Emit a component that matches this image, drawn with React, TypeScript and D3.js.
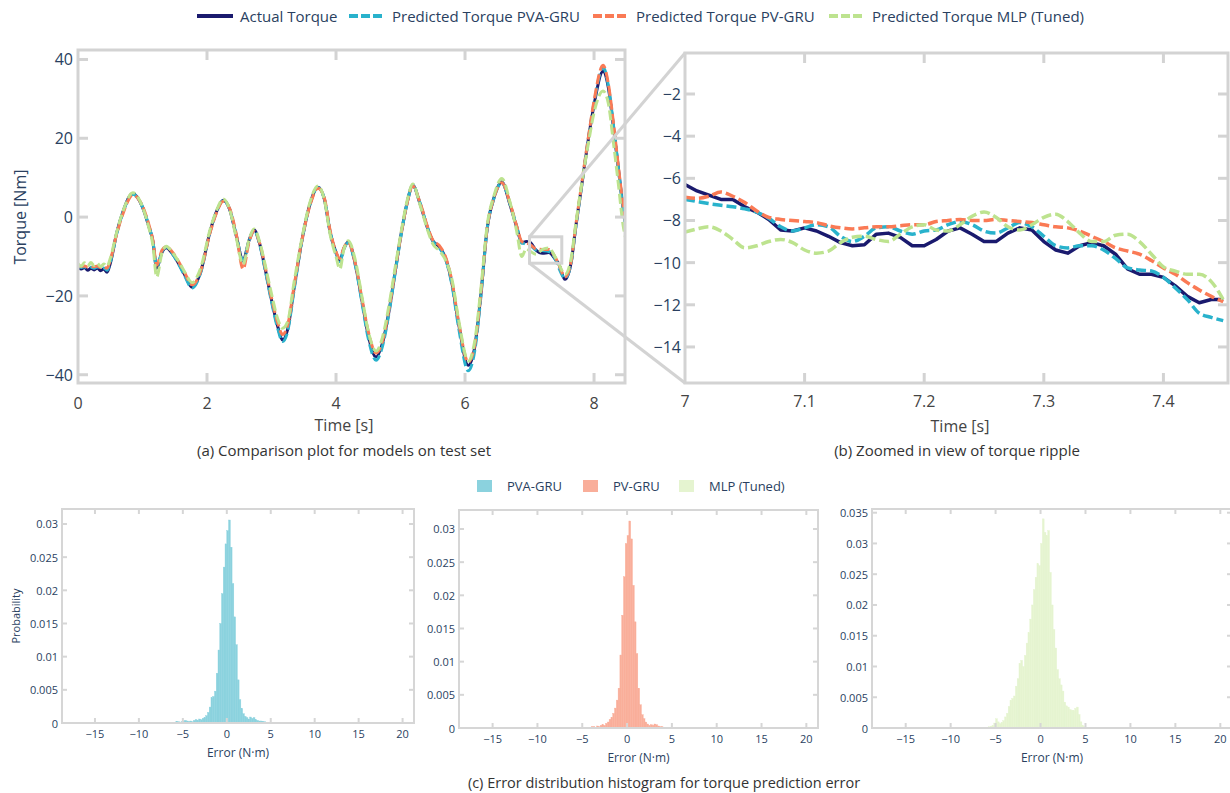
import React from 'react';
import * as d3 from 'd3';

// ---------------- DATA ----------------
const SERIES_NAMES = ['Actual Torque', 'Predicted Torque PVA-GRU', 'Predicted Torque PV-GRU', 'Predicted Torque MLP (Tuned)'];
const HIST_NAMES = ['PVA-GRU', 'PV-GRU', 'MLP (Tuned)'];

// Panel (a): full test-set time series
const TIME_A = [0, 0.05, 0.1, 0.15, 0.2, 0.25, 0.3, 0.35, 0.4, 0.45,
  0.5, 0.6, 0.7, 0.85, 1.0, 1.1, 1.16, 1.22, 1.3, 1.37,
  1.45, 1.55, 1.65, 1.77, 1.9, 2.05, 2.15, 2.25, 2.35, 2.45,
  2.56, 2.65, 2.73, 2.82, 2.9, 3.0, 3.1, 3.17, 3.25, 3.35,
  3.47, 3.6, 3.72, 3.82, 3.91, 4.0, 4.06, 4.12, 4.19, 4.3,
  4.4, 4.5, 4.62, 4.72, 4.82, 4.92, 5.02, 5.1, 5.19, 5.3,
  5.43, 5.5, 5.6, 5.7, 5.8, 5.9, 6.05, 6.15, 6.25, 6.34,
  6.45, 6.57, 6.7, 6.8, 6.88, 6.95, 7.0, 7.1, 7.2, 7.3,
  7.4, 7.45, 7.55, 7.65, 7.71, 7.8, 7.91, 8.0, 8.14, 8.22,
  8.3, 8.38, 8.45, 8.5];

const ACTUAL_A = [-12.5, -13.2, -12.8, -13.5, -13.0, -13.4, -12.9, -13.6, -13.2, -14.0,
  -11.8, -4.0, 1.5, 6.0, 2.5, -2.5, -6.0, -13.0, -9.0, -7.8,
  -9.0, -11.5, -14.5, -17.8, -14.0, -3.5, 1.5, 4.3, 2.0, -4.5,
  -11.0, -6.0, -3.3, -7.0, -13.0, -21.0, -28.0, -31.2, -28.5, -18.0,
  -6.0, 3.5, 7.6, 4.5, -4.0, -9.0, -11.0, -8.0, -6.3, -12.0,
  -21.0, -30.0, -35.5, -32.0, -24.0, -13.5, -3.3, 3.5, 8.1, 3.5,
  -3.3, -6.0, -7.5, -10.5, -17.0, -27.0, -37.6, -33.0, -19.0, -3.3,
  5.0, 8.9, 3.0, -2.5, -6.5, -6.2, -6.3, -8.4, -9.2, -9.0,
  -10.7, -11.8, -15.8, -11.0, -3.3, 7.0, 19.5, 28.5, 37.0, 33.0,
  23.0, 12.0, 2.5, -3.0];

const PVA_A = [-12.0, -12.8, -12.6, -13.0, -12.7, -13.0, -12.6, -13.1, -12.9, -13.5,
  -11.5, -4.2, 1.4, 5.8, 2.6, -2.3, -6.0, -12.8, -8.8, -7.6,
  -9.0, -11.6, -14.8, -18.0, -14.2, -3.6, 1.4, 4.2, 2.1, -4.3,
  -11.2, -6.2, -3.4, -7.2, -13.3, -21.5, -28.5, -31.6, -29.0, -18.5,
  -6.2, 3.4, 7.5, 4.6, -3.8, -9.2, -11.3, -8.2, -6.5, -12.3,
  -21.5, -30.8, -36.3, -32.8, -24.5, -13.8, -3.5, 3.4, 8.0, 3.7,
  -3.2, -6.1, -7.8, -10.8, -17.5, -28.0, -39.0, -34.0, -19.5, -3.4,
  4.8, 8.7, 3.2, -2.3, -6.6, -6.8, -7.0, -8.35, -8.5, -8.75,
  -10.7, -12.75, -15.5, -11.2, -3.5, 7.0, 19.8, 29.0, 38.0, 33.5,
  23.5, 12.0, 2.0, -3.5];

const PV_A = [-12.3, -12.5, -12.4, -12.7, -12.5, -12.6, -12.4, -12.8, -12.6, -13.0,
  -11.0, -4.3, 1.0, 5.6, 2.8, -2.0, -5.8, -12.2, -8.5, -7.5,
  -8.6, -11.0, -14.0, -17.2, -13.8, -3.8, 1.2, 4.0, 2.2, -4.0,
  -13.2, -6.5, -3.6, -6.8, -12.5, -20.5, -27.0, -29.8, -27.5, -17.5,
  -6.0, 3.2, 7.3, 4.8, -3.5, -8.8, -10.5, -7.8, -6.4, -11.8,
  -20.5, -29.0, -34.5, -31.5, -23.5, -13.2, -3.3, 3.4, 7.9, 3.8,
  -3.0, -5.8, -7.2, -10.2, -16.5, -26.5, -36.8, -32.5, -18.5, -3.2,
  5.0, 8.7, 3.4, -2.2, -6.2, -6.6, -6.9, -8.05, -8.2, -8.2,
  -10.25, -11.85, -15.2, -10.8, -3.0, 7.5, 20.0, 29.5, 38.5, 34.0,
  24.0, 12.5, 3.0, -2.5];

const MLP_A = [-11.8, -12.5, -11.6, -12.4, -11.5, -12.3, -11.7, -12.6, -11.9, -12.5,
  -10.5, -3.8, 1.6, 6.2, 2.6, -2.8, -7.0, -15.2, -9.2, -7.4,
  -8.7, -11.0, -13.8, -16.6, -13.0, -3.0, 1.8, 4.6, 2.0, -5.0,
  -12.0, -5.8, -3.0, -6.5, -12.0, -19.5, -26.0, -28.2, -26.5, -16.5,
  -5.5, 4.0, 7.9, 4.3, -4.5, -10.0, -13.2, -8.3, -6.0, -11.0,
  -20.0, -29.0, -34.0, -30.5, -22.5, -12.5, -2.8, 4.0, 8.4, 3.2,
  -3.8, -6.8, -8.5, -11.0, -16.0, -26.0, -36.5, -31.5, -17.5, -2.5,
  5.5, 9.8, 3.6, -3.5, -10.0, -8.0, -8.55, -9.4, -8.2, -7.85,
  -10.2, -11.75, -14.5, -10.0, -2.5, 7.5, 18.5, 26.5, 32.0, 29.0,
  19.0, 8.0, -2.0, -6.0];

// Panel (b): zoomed window 7.00 .. 7.45 s
const TIME_B = [7.00, 7.01, 7.02, 7.03, 7.04, 7.05, 7.06, 7.07, 7.08, 7.09,
  7.10, 7.11, 7.12, 7.13, 7.14, 7.15, 7.16, 7.17, 7.18, 7.19,
  7.20, 7.21, 7.22, 7.23, 7.24, 7.25, 7.26, 7.27, 7.28, 7.29,
  7.30, 7.31, 7.32, 7.33, 7.34, 7.35, 7.36, 7.37, 7.38, 7.39,
  7.40, 7.41, 7.42, 7.43, 7.44, 7.45];

const ACTUAL_B = [-6.3, -6.6, -6.8, -7.0, -7.0, -7.35, -7.6, -7.95, -8.45, -8.5,
  -8.35, -8.5, -8.75, -9.05, -9.2, -9.15, -8.65, -8.6, -8.8, -9.2,
  -9.2, -8.9, -8.5, -8.35, -8.65, -9.0, -9.0, -8.6, -8.35, -8.45,
  -9.0, -9.4, -9.55, -9.2, -9.05, -9.2, -9.6, -10.3, -10.55, -10.55,
  -10.7, -11.1, -11.6, -11.9, -11.75, -11.75];

const PVA_B = [-7.0, -7.1, -7.2, -7.28, -7.35, -7.45, -7.6, -7.9, -8.3, -8.5,
  -8.35, -8.2, -8.3, -8.75, -9.0, -8.75, -8.35, -8.3, -8.5, -8.65,
  -8.5, -8.45, -8.2, -8.05, -8.2, -8.5, -8.6, -8.35, -8.1, -8.3,
  -8.75, -9.2, -9.3, -9.2, -9.2, -9.4, -9.8, -10.25, -10.35, -10.4,
  -10.7, -11.2, -11.75, -12.4, -12.6, -12.75];

const PV_B = [-6.9, -6.95, -6.85, -6.65, -6.85, -7.15, -7.55, -7.85, -7.95, -8.0,
  -8.05, -8.1, -8.25, -8.35, -8.4, -8.35, -8.3, -8.3, -8.25, -8.2,
  -8.2, -8.05, -8.0, -7.95, -8.0, -8.0, -7.95, -8.0, -8.05, -8.1,
  -8.2, -8.3, -8.35, -8.5, -8.75, -9.0, -9.3, -9.45, -9.6, -9.9,
  -10.25, -10.55, -10.95, -11.3, -11.6, -11.85];

const MLP_B = [-8.55, -8.4, -8.3, -8.5, -8.9, -9.3, -9.2, -9.0, -8.9, -9.05,
  -9.4, -9.55, -9.45, -9.05, -8.8, -8.75, -8.9, -9.0, -8.65, -8.3,
  -8.2, -8.45, -8.5, -8.2, -7.8, -7.6, -7.85, -8.3, -8.45, -8.2,
  -7.85, -7.7, -8.05, -8.6, -9.0, -9.0, -8.7, -8.65, -9.0, -9.6,
  -10.2, -10.4, -10.55, -10.55, -10.9, -11.75];

// Histograms: bins of width 0.2 starting at -6.0 (60 bins)
const BIN_START = -6.0;
const BIN_WIDTH = 0.2;

const HIST_PVA = [0, 0.0002, 0.0002, 0.0001, 0.0002, 0.0003, 0.0004, 0.0003, 0.0002, 0.0003,
  0.0002, 0.0004, 0.0005, 0.0004, 0.0006, 0.0005, 0.0007, 0.0008, 0.0011, 0.0016,
  0.0024, 0.0038, 0.0040, 0.0048, 0.0075, 0.0110, 0.0150, 0.0195, 0.0235, 0.0270,
  0.0290, 0.0306, 0.0265, 0.0210, 0.0160, 0.0118, 0.0065, 0.0035, 0.0022, 0.0014,
  0.0010, 0.0008, 0.0006, 0.0009, 0.0007, 0.0008, 0.0005, 0.0004, 0.0003, 0.0003,
  0.0002, 0.0002, 0.0001, 0, 0, 0, 0, 0, 0, 0];

const HIST_PV = [0, 0, 0, 0, 0, 0, 0, 0, 0, 0.0001,
  0.0002, 0.0002, 0.0001, 0.0003, 0.0002, 0.0004, 0.0005, 0.0004, 0.0007, 0.0009,
  0.0013, 0.0016, 0.0022, 0.0030, 0.0042, 0.0060, 0.0110, 0.0170, 0.0228, 0.0278,
  0.0290, 0.0312, 0.0285, 0.0215, 0.0160, 0.0112, 0.0060, 0.0035, 0.0020, 0.0014,
  0.0009, 0.0006, 0.0004, 0.0005, 0.0004, 0.0006, 0.0005, 0.0003, 0.0002, 0.0002,
  0.0001, 0.0001, 0.0001, 0.0001, 0.0001, 0, 0, 0, 0, 0];

const HIST_MLP = [0.0001, 0.0002, 0.0003, 0.0004, 0.0008, 0.0015, 0.0010, 0.0007, 0.0009, 0.0012,
  0.0018, 0.0024, 0.0035, 0.0045, 0.0048, 0.0052, 0.0068, 0.0080, 0.0105, 0.0110,
  0.0100, 0.0118, 0.0138, 0.0155, 0.0177, 0.0200, 0.0225, 0.0245, 0.0267, 0.0264,
  0.0300, 0.0340, 0.0318, 0.0313, 0.0321, 0.0253, 0.0200, 0.0160, 0.0130, 0.0095,
  0.0080, 0.0070, 0.0060, 0.0042, 0.0036, 0.0034, 0.0030, 0.0029, 0.0028, 0.0032,
  0.0034, 0.0022, 0.0010, 0.0004, 0.0002, 0.0001, 0, 0, 0, 0];

const TICKS_A_X = [0, 2, 4, 6, 8];
const TICKS_A_Y = [-40, -20, 0, 20, 40];
const TICKS_B_X = [7, 7.1, 7.2, 7.3, 7.4];
const TICKS_B_Y = [-14, -12, -10, -8, -6, -4, -2];
const TICKS_H_X = [-15, -10, -5, 0, 5, 10, 15, 20];
const TICKS_H_Y = [0, 0.005, 0.01, 0.015, 0.02, 0.025, 0.03];
const TICKS_H_Y3 = [0, 0.005, 0.01, 0.015, 0.02, 0.025, 0.03, 0.035];

// zoom window shown in panel (a)
const ZOOM_T = [7.0, 7.5];
const ZOOM_V = [-5.0, -11.7];

// ---------------- STYLE ----------------
const FONT = '"Open Sans", verdana, arial, sans-serif';
const SLATE = '#2a3f5f';
const DARK = '#444444';
const AXIS = '#d3d3d3';
const COLORS = ['#1a1a6e', '#29b2cc', '#fa7a55', '#bde38f'];
const HIST_COLORS = ['#8bd2de', '#f9ae9a', '#e5f4d0'];
const DASH = '10,4';

const fmt = d3.format('');

function FrameTicks({ x, y, xTicks, yTicks, len, sw, color }: any) {
  const [x0, x1] = x.range();
  const [y0, y1] = y.range(); // y0 bottom, y1 top
  return (
    <g stroke={color} strokeWidth={sw} fill="none">
      {xTicks.map((t: number, i: number) => (
        <g key={'xt' + i}>
          <line x1={x(t)} x2={x(t)} y1={y0} y2={y0 - len} />
          <line x1={x(t)} x2={x(t)} y1={y1} y2={y1 + len} />
        </g>
      ))}
      {yTicks.map((t: number, i: number) => (
        <g key={'yt' + i}>
          <line x1={x0} x2={x0 + len} y1={y(t)} y2={y(t)} />
          <line x1={x1} x2={x1 - len} y1={y(t)} y2={y(t)} />
        </g>
      ))}
      <rect x={x0} y={y1} width={x1 - x0} height={y0 - y1} />
    </g>
  );
}

function Hist({ left, right, top, bottom, yMax, yTicks, values, color, yTitle }: any) {
  const x = d3.scaleLinear().domain([-18.75, 21.3]).range([left, right]);
  const y = d3.scaleLinear().domain([0, yMax]).range([bottom, top]);
  return (
    <g>
      <g fill={color} stroke={color} strokeWidth={0.4}>
        {values.map((v: number, i: number) => {
          if (v <= 0) return null;
          const e0 = BIN_START + i * BIN_WIDTH;
          const e1 = e0 + BIN_WIDTH;
          return <rect key={i} x={x(e0)} width={x(e1) - x(e0)} y={y(v)} height={bottom - y(v)} />;
        })}
      </g>
      <FrameTicks x={x} y={y} xTicks={TICKS_H_X} yTicks={yTicks.filter((t: number) => t > 0)} len={5} sw={2} color="#d6d6d6" />
      <g fontFamily={FONT} fontSize={11} fill={SLATE}>
        {TICKS_H_X.map((t: number) => (
          <text key={'hx' + t} x={x(t)} y={bottom + 10} textAnchor="middle" dominantBaseline="central">{fmt(t)}</text>
        ))}
        {yTicks.map((t: number) => (
          <text key={'hy' + t} x={left - 4} y={y(t)} textAnchor="end" dominantBaseline="central">{String(+t.toFixed(3))}</text>
        ))}
      </g>
      <text x={(left + right) / 2} y={bottom + 29} textAnchor="middle" dominantBaseline="central" fontFamily={FONT} fontSize={12} fill={SLATE}>Error (N·m)</text>
      {yTitle && (
        <text transform={`translate(15,${(top + bottom) / 2}) rotate(-90)`} textAnchor="middle" dominantBaseline="central" fontFamily={FONT} fontSize={11} fill={SLATE}>{yTitle}</text>
      )}
    </g>
  );
}

export default function App() {
  const W = 1230, H = 793;
  const xA = d3.scaleLinear().domain([0, 8.48]).range([78, 625]);
  const yA = d3.scaleLinear().domain([-42.1, 42.4]).range([383, 50]);
  const xB = d3.scaleLinear().domain([7, 7.454]).range([685, 1228]);
  const yB = d3.scaleLinear().domain([-15.71, -0.055]).range([383, 53]);

  const seriesA = [ACTUAL_A, PVA_A, PV_A, MLP_A];
  const seriesB = [ACTUAL_B, PVA_B, PV_B, MLP_B];

  const lineA = (vals: number[]) =>
    d3.line<number>().x((_, i) => xA(TIME_A[i])).y((d) => yA(d)).curve(d3.curveMonotoneX)(vals) || '';
  const lineB = (vals: number[], smooth: boolean) =>
    d3.line<number>().x((_, i) => xB(TIME_B[i])).y((d) => yB(d)).curve(smooth ? d3.curveMonotoneX : d3.curveLinear)(vals) || '';

  const legendX = [197, 349, 593, 829];
  const histLegendX = [477, 583, 679];

  const zx0 = xA(ZOOM_T[0]), zx1 = xA(ZOOM_T[1]);
  const zy0 = yA(ZOOM_V[0]), zy1 = yA(ZOOM_V[1]);

  return (
    <svg width={W} height={H} style={{ position: 'absolute', left: 0, top: 0, background: '#fff' }}>
      <defs>
        <clipPath id="clipA"><rect x={78} y={50} width={625 - 78} height={383 - 50} /></clipPath>
        <clipPath id="clipB"><rect x={685} y={53} width={1228 - 685} height={383 - 53} /></clipPath>
      </defs>
      <rect x={0} y={0} width={W} height={H} fill="#fff" />

      {/* top legend */}
      <g fontFamily={FONT} fontSize={15} fill={SLATE}>
        {SERIES_NAMES.map((n, i) => (
          <g key={n}>
            <line x1={legendX[i]} x2={legendX[i] + 36} y1={16} y2={16} stroke={COLORS[i]} strokeWidth={4}
              strokeDasharray={i === 0 ? undefined : '9,3'} />
            <text x={legendX[i] + 43} y={16} dominantBaseline="central">{n}</text>
          </g>
        ))}
      </g>

      {/* Panel (a) */}
      <g clipPath="url(#clipA)" fill="none">
        {seriesA.map((vals, i) => (
          <path key={i} d={lineA(vals)} stroke={COLORS[i]} strokeWidth={3}
            strokeDasharray={i === 0 ? undefined : DASH} strokeLinejoin="round" />
        ))}
      </g>
      <FrameTicks x={xA} y={yA} xTicks={TICKS_A_X.filter((t) => t > 0)} yTicks={TICKS_A_Y} len={10} sw={3} color={AXIS} />
      <g fontFamily={FONT} fontSize={16}>
        {TICKS_A_X.map((t) => (
          <text key={'ax' + t} x={xA(t)} y={403} textAnchor="middle" dominantBaseline="central" fill={DARK}>{fmt(t)}</text>
        ))}
        {TICKS_A_Y.map((t) => (
          <text key={'ay' + t} x={73} y={yA(t)} textAnchor="end" dominantBaseline="central" fill={SLATE}>{fmt(t)}</text>
        ))}
        <text x={344} y={425} textAnchor="middle" dominantBaseline="central" fill={DARK}>Time [s]</text>
        <text transform={`translate(20,${yA(0)}) rotate(-90)`} textAnchor="middle" dominantBaseline="central" fill={SLATE}>Torque [Nm]</text>
      </g>
      <text x={344} y={450} textAnchor="middle" dominantBaseline="central" fontFamily={FONT} fontSize={15} fill="#333">(a) Comparison plot for models on test set</text>

      {/* Panel (b) */}
      <g clipPath="url(#clipB)" fill="none">
        {seriesB.map((vals, i) => (
          <path key={i} d={lineB(vals, i !== 0)} stroke={COLORS[i]} strokeWidth={3.5}
            strokeDasharray={i === 0 ? undefined : DASH} strokeLinejoin="round" />
        ))}
      </g>
      <FrameTicks x={xB} y={yB} xTicks={TICKS_B_X.filter((t) => t > 7)} yTicks={TICKS_B_Y} len={10} sw={3} color={AXIS} />
      <g fontFamily={FONT} fontSize={16}>
        {TICKS_B_X.map((t) => (
          <text key={'bx' + t} x={xB(t)} y={401} textAnchor="middle" dominantBaseline="central" fill={DARK}>{fmt(t)}</text>
        ))}
        {TICKS_B_Y.map((t) => (
          <text key={'by' + t} x={681} y={yB(t)} textAnchor="end" dominantBaseline="central" fill={SLATE}>{fmt(t)}</text>
        ))}
        <text x={960} y={426} textAnchor="middle" dominantBaseline="central" fill={DARK}>Time [s]</text>
      </g>
      <text x={957} y={450} textAnchor="middle" dominantBaseline="central" fontFamily={FONT} fontSize={15} fill="#333">(b) Zoomed in view of torque ripple</text>

      {/* zoom indicator */}
      <g stroke={AXIS} strokeWidth={3} fill="none">
        <rect x={zx0} y={zy0} width={zx1 - zx0} height={zy1 - zy0} />
        <line x1={zx0} y1={zy0} x2={xB.range()[0]} y2={yB.range()[1]} />
        <line x1={zx0} y1={zy1} x2={xB.range()[0]} y2={yB.range()[0]} />
      </g>

      {/* histogram legend */}
      <g fontFamily={FONT} fontSize={13} fill={SLATE}>
        {HIST_NAMES.map((n, i) => (
          <g key={n}>
            <rect x={histLegendX[i]} y={480} width={15} height={12} fill={HIST_COLORS[i]} />
            <text x={histLegendX[i] + 30} y={486} dominantBaseline="central">{n}</text>
          </g>
        ))}
      </g>

      <Hist left={62} right={414} top={509} bottom={723} yMax={0.03226} yTicks={TICKS_H_Y} values={HIST_PVA} color={HIST_COLORS[0]} yTitle="Probability" />
      <Hist left={459} right={818} top={510} bottom={728} yMax={0.03286} yTicks={TICKS_H_Y} values={HIST_PV} color={HIST_COLORS[1]} />
      <Hist left={872} right={1232} top={509} bottom={728} yMax={0.0356} yTicks={TICKS_H_Y3} values={HIST_MLP} color={HIST_COLORS[2]} />

      <text x={664} y={782} textAnchor="middle" dominantBaseline="central" fontFamily={FONT} fontSize={14.5} fill="#333">(c) Error distribution histogram for torque prediction error</text>
    </svg>
  );
}
